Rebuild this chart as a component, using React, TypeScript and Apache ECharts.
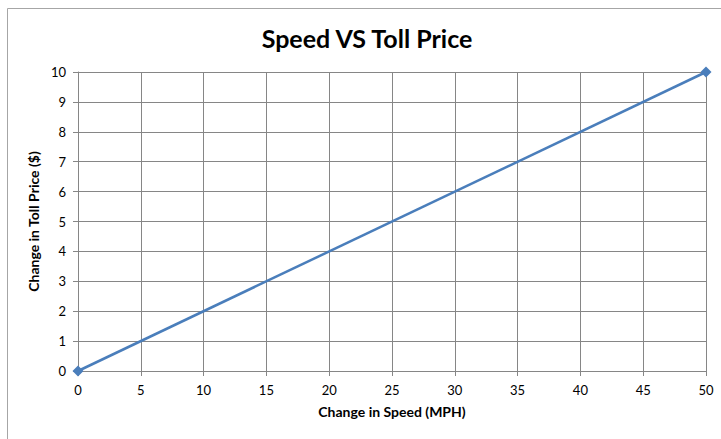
import React, { useEffect, useRef } from "react";
import * as echarts from "echarts";

const speedValues: number[] = [0, 50];
const tollValues: number[] = [0, 10];
const chartTitle = "Speed VS Toll Price";
const xAxisTitle = "Change in Speed (MPH)";
const yAxisTitle = "Change in Toll Price ($)";

export default function App() {
  const ref = useRef<HTMLDivElement>(null);
  useEffect(() => {
    if (!ref.current) return;
    const chart = echarts.init(ref.current, null, { renderer: "svg" });
    const font = "Lato, 'Open Sans', sans-serif";
    chart.setOption({
      animation: false,
      backgroundColor: "#ffffff",
      title: {
        text: chartTitle,
        left: 362,
        top: 20,
        textAlign: "center",
        textStyle: { fontFamily: font, fontSize: 25, fontWeight: "bold", color: "#000" },
      },
      graphic: [
        {
          type: "polyline",
          shape: { points: [[7.5, 439], [7.5, 8.5], [721, 8.5]] },
          style: { stroke: "#a6a6a6", lineWidth: 1, fill: "none" },
        },
      ],
      grid: { left: 78, right: 15, top: 72, bottom: 68 },
      xAxis: {
        type: "value",
        min: 0,
        max: 50,
        interval: 5,
        name: xAxisTitle,
        nameLocation: "middle",
        nameGap: 33,
        nameTextStyle: { fontFamily: font, fontSize: 14, fontWeight: "bold", color: "#000" },
        axisLine: { show: true, lineStyle: { color: "#868686", width: 1 } },
        axisTick: { show: true, length: 5, lineStyle: { color: "#868686" } },
        axisLabel: { fontFamily: font, fontSize: 13, color: "#000", margin: 12 },
        splitLine: { show: true, lineStyle: { color: "#868686", width: 1 } },
      },
      yAxis: {
        type: "value",
        min: 0,
        max: 10,
        interval: 1,
        name: yAxisTitle,
        nameLocation: "middle",
        nameRotate: 90,
        nameGap: 33,
        nameTextStyle: { fontFamily: font, fontSize: 14, fontWeight: "bold", color: "#000" },
        axisLine: { show: true, lineStyle: { color: "#868686", width: 1 } },
        axisTick: { show: true, length: 5, lineStyle: { color: "#868686" } },
        axisLabel: { fontFamily: font, fontSize: 13, color: "#000", margin: 12 },
        splitLine: { show: true, lineStyle: { color: "#868686", width: 1 } },
      },
      series: [
        {
          type: "line",
          data: speedValues.map((s, i) => [s, tollValues[i]]),
          symbol: "diamond",
          symbolSize: 11,
          lineStyle: { color: "#4a7ebb", width: 2.5 },
          itemStyle: { color: "#4a7ebb" },
        },
      ],
    });
    return () => chart.dispose();
  }, []);
  return (
    <div
      ref={ref}
      style={{ position: "absolute", left: 0, top: 0, width: 721, height: 439 }}
    />
  );
}
